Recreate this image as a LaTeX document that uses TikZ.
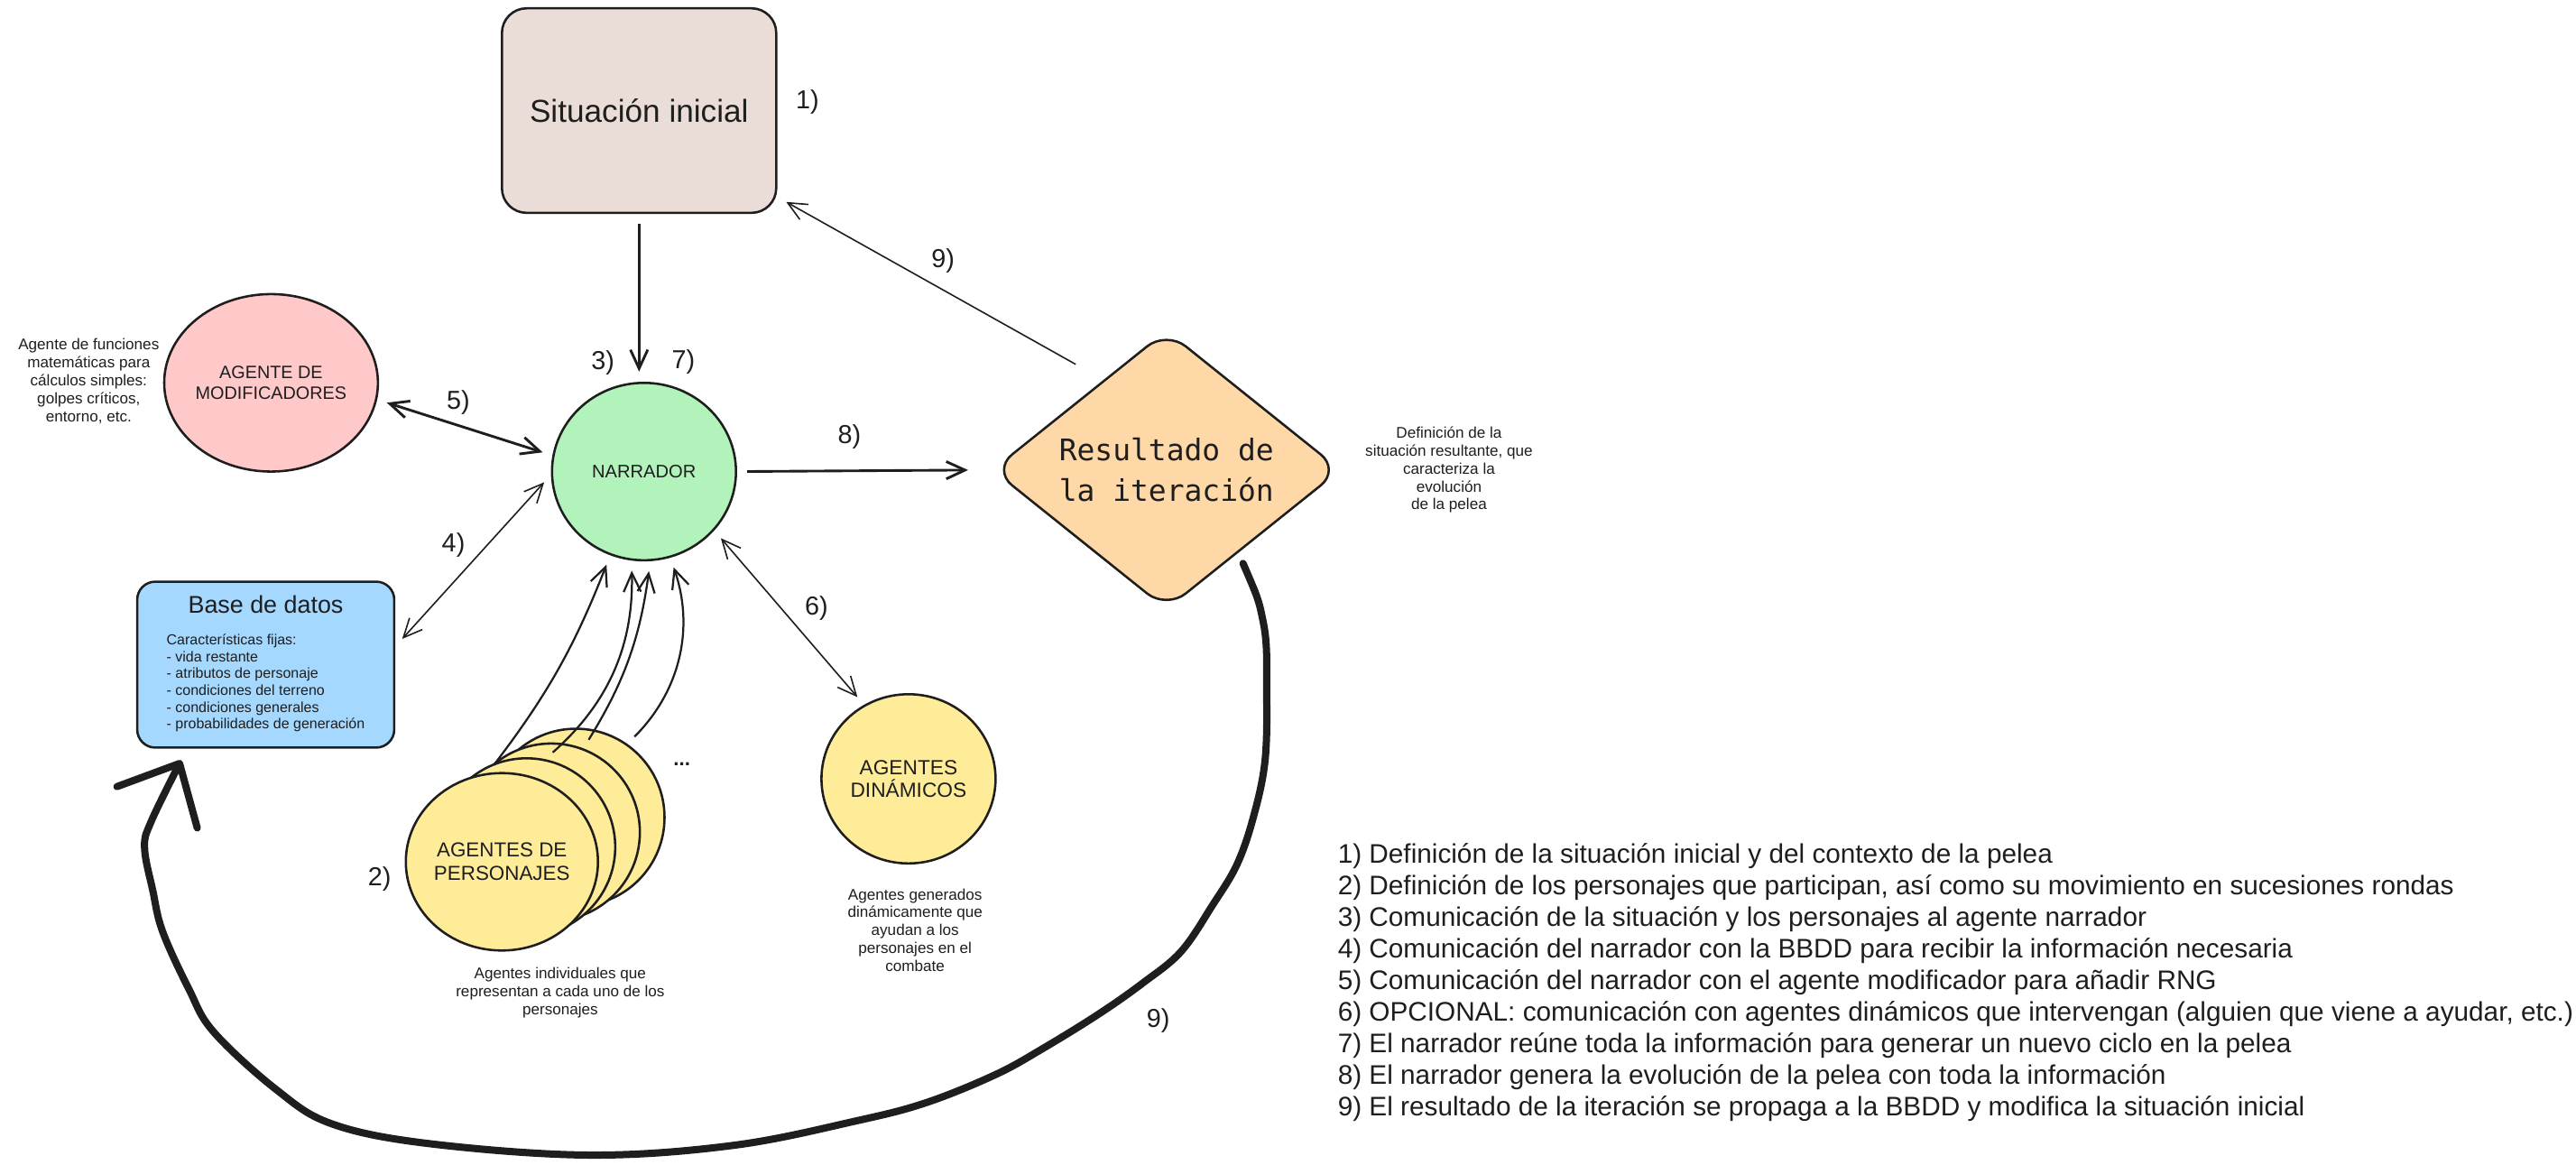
\documentclass[tikz,border=0pt]{standalone}
\usepackage{fontspec}
\setmainfont{Liberation Sans}
\newfontfamily\resfont{DejaVu Sans Mono}
\usetikzlibrary{arrows.meta,shapes.geometric}
\definecolor{ink}{HTML}{1E1E1E}
\definecolor{sitfill}{HTML}{EADDD7}
\definecolor{narfill}{HTML}{B2F2BB}
\definecolor{modfill}{HTML}{FFC9C9}
\definecolor{bdfill}{HTML}{A5D8FF}
\definecolor{agfill}{HTML}{FFEC99}
\definecolor{resfill}{HTML}{FFD8A8}
\begin{document}
\begin{tikzpicture}[
        x=0.02cm, y=-0.02cm,
        agent/.style={draw=ink, line width=0.8pt, ellipse, inner sep=0pt, text=ink, align=center, minimum width=2.16cm, minimum height=2.16cm, font=\fontsize{7}{8.25}\selectfont},
        box/.style={draw=ink, line width=0.8pt, rectangle, inner sep=0pt, text=ink, align=center},
        lbl/.style={text=ink, inner sep=0pt, font=\fontsize{9}{10}\selectfont},
        note/.style={text=ink, inner sep=0pt, align=center, font=\fontsize{5.35}{6.2}\selectfont},
        link/.style={draw=ink, line width=0.5pt, -{Straight Barb[length=6.5pt, width=6pt]}, shorten >=3.5pt, shorten <=3.5pt},
        both/.style={link, {Straight Barb[length=6.5pt, width=6pt]}-{Straight Barb[length=6.5pt, width=6pt]}},
        bigarrow/.style={draw=ink, line width=2.5pt, line cap=round, line join=round, -{Straight Barb[length=0.6cm, width=1.1cm, round]}},
    ]
    \useasboundingbox (0,0) rectangle (1568,709);
    \node[box, fill=sitfill, rounded corners=0.3cm, minimum width=3.34cm, minimum height=2.49cm, font=\fontsize{11}{13}\selectfont] (sit) at (389,67.3) {Situación inicial};
    \node[agent, fill=narfill, minimum width=2.24cm, font=\fontsize{6.3}{7.5}\selectfont] (nar) at (392,287) {NARRADOR};
    \node[agent, fill=modfill, minimum width=2.12cm, font=\fontsize{6.2}{7.1}\selectfont] (mod) at (165,233) {AGENTE DE\\MODIFICADORES};
    \node[box, fill=bdfill, rounded corners=0.22cm, minimum width=3.13cm, minimum height=2.02cm, font=\fontsize{8.4}{11.1}\selectfont] (bd) at (161.75,404.5) {Base de datos\\{\fontsize{5}{5.8}\selectfont\begin{tabular}[t]{@{}l@{}}Características fijas:\\- vida restante\\- atributos de personaje\\- condiciones del terreno\\- condiciones generales\\- probabilidades de generación\end{tabular}}};
    \node[agent, fill=agfill] (per4) at (350.5,497.5) {};
    \node[agent, fill=agfill] (per3) at (335.5,506.5) {};
    \node[agent, fill=agfill] (per2) at (320.5,515.5) {};
    \node[agent, fill=agfill] (per1) at (305.5,524.5) {AGENTES DE\\PERSONAJES};
    \node[agent, fill=agfill, minimum width=2.12cm, minimum height=2.06cm, font=\fontsize{7.1}{8}\selectfont] (dyn) at (553,474) {AGENTES\\DINÁMICOS};
    \node[diamond, draw=ink, line width=0.8pt, fill=resfill, rounded corners=0.3cm, inner sep=0pt, minimum width=4.24cm, minimum height=3.38cm, text=ink, align=center, font=\resfont\fontsize{10.3}{14.2}\selectfont] (res) at (710,286) {Resultado de\\la iteración};
    \node[note] (notemod) at (54,232) {Agente de funciones\\matemáticas para\\cálculos simples:\\golpes críticos,\\entorno, etc.};
    \node[note] (noteper) at (341,604) {Agentes individuales que\\representan a cada uno de los\\personajes};
    \node[note] (notedyn) at (557,566) {Agentes generados\\dinámicamente que\\ayudan a los\\personajes en el\\combate};
    \node[note] (noteres) at (882,286) {Definición de la\\situación resultante, que\\caracteriza la\\evolución\\de la pelea};
    \node[lbl] (l1) at (491.5,62) {1)};
    \node[lbl] (l2) at (231,535) {2)};
    \node[lbl] (l3) at (367,221) {3)};
    \node[lbl] (l7) at (416,220) {7)};
    \node[lbl] (l5) at (279,245) {5)};
    \node[lbl] (l4) at (276,332) {4)};
    \node[lbl] (l6) at (497,370) {6)};
    \node[lbl] (l8) at (517,266) {8)};
    \node[lbl] (l9a) at (574,159) {9)};
    \node[lbl] (l9b) at (705,621) {9)};
    \node[lbl, font=\bfseries\fontsize{7}{8}\selectfont] (dots) at (415,465) {...};
    \node[anchor=west, inner sep=0pt, align=left, text=ink, font=\fontsize{9.3}{10.93}\selectfont] (leyenda) at (814,598) {1) Definición de la situación inicial y del contexto de la pelea\\2) Definición de los personajes que participan, así como su movimiento en sucesiones rondas\\3) Comunicación de la situación y los personajes al agente narrador\\4) Comunicación del narrador con la BBDD para recibir la información necesaria\\5) Comunicación del narrador con el agente modificador para añadir RNG\\6) OPCIONAL: comunicación con agentes dinámicos que intervengan (alguien que viene a ayudar, etc.)\\7) El narrador reúne toda la información para generar un nuevo ciclo en la pelea\\8) El narrador genera la evolución de la pelea con toda la información\\9) El resultado de la iteración se propaga a la BBDD y modifica la situación inicial};
    \draw[link, line width=0.9pt] (sit.south) -- (sit.south |- nar.north);
    \draw[both, line width=0.9pt] (mod.-9) -- (nar.170);
    \draw[both] (nar.182) -- (bd.8);
    \draw[both] (nar.-40) -- (dyn.121);
    \draw[link, line width=0.9pt, shorten >=8pt] (nar.east) -- (res.west);
    \draw[link, shorten <=11pt] (res.125) -- (sit.-32);
    \draw[link, line width=0.7pt] (per1.99) to[bend right=8] (nar.-112);
    \draw[link, line width=0.7pt] (per2.78) to[bend right=25] (nar.-98);
    \draw[link, line width=0.7pt] (per3.69) to[bend right=12] (nar.-86);
    \draw[link, line width=0.7pt] (per4.55) to[bend right=32] (nar.-73);
    \draw[bigarrow, shorten <=4pt] plot[smooth, tension=0.6] coordinates {(res.-49) (769,379) (771,421) (770,463) (763,497) (753,526) (738,551) (719,579) (696,598) (669,617) (635,638) (606,654) (564,671) (522,682) (447,697) (359,703) (261,696) (202,684) (168,663) (130,628) (115,602) (99,567) (93,542) (88,516) (92,500) ([shift={(27.5,7)}]bd.south west)};
\end{tikzpicture}
\end{document}
